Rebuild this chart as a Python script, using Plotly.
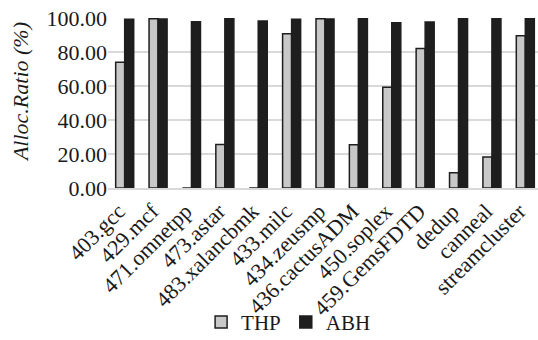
import plotly.graph_objects as go

categories = ["403.gcc", "429.mcf", "471.omnetpp", "473.astar", "483.xalancbmk",
              "433.milc", "434.zeusmp", "436.cactusADM", "450.soplex", "459.GemsFDTD",
              "dedup", "canneal", "streamcluster"]
thp = [74.0, 99.6, 0, 25.6, 0, 90.7, 99.6, 25.4, 59.3, 82.1, 8.9, 18.3, 89.5]
abh = [99.3, 99.4, 97.8, 99.5, 98.2, 99.3, 99.4, 99.5, 97.2, 97.6, 99.5, 99.5, 99.5]
y_ticks = [0, 20, 40, 60, 80, 100]
y_title = "Alloc.Ratio (%)"

FONT = "Liberation Serif, Times New Roman, serif"

fig = go.Figure()
fig.add_trace(go.Bar(x=categories, y=thp, name="THP",
                     marker=dict(color="#c8c8c8", line=dict(color="#1e1e1e", width=1.5))))
fig.add_trace(go.Bar(x=categories, y=abh, name="ABH",
                     marker=dict(color="#1e1e1e", line=dict(color="#1e1e1e", width=1.5))))

fig.update_layout(
    width=538, height=340,
    margin=dict(l=108, r=0, t=18, b=152, autoexpand=False),
    paper_bgcolor="white", plot_bgcolor="white",
    barmode="group", bargap=0.46, bargroupgap=0,
    font=dict(family=FONT, color="#1a1a1a"),
    xaxis=dict(range=[-0.5, 12.38], tickangle=-45, tickfont=dict(size=22, family=FONT),
               ticklabelshift=-6, automargin=False,
               showline=True, linecolor="#d9d9d9", linewidth=1.5, ticks="", showgrid=False),
    yaxis=dict(range=[0, 100], tickvals=y_ticks, tickformat=".2f", automargin=False,
               tickfont=dict(size=22, family=FONT),
               showgrid=True, gridcolor="#d9d9d9", gridwidth=1.5, zeroline=False),
    legend=dict(orientation="h", x=0.42, xanchor="center", y=-0.79, yanchor="middle",
                bgcolor="rgba(0,0,0,0)",
                font=dict(size=21, family=FONT), itemwidth=30, traceorder="normal"),
    annotations=[dict(text="<i>" + y_title + "</i>", xref="paper", yref="paper",
                      x=-0.202, y=0.565, xanchor="center", yanchor="middle",
                      textangle=-90, showarrow=False, font=dict(size=22, family=FONT))],
)

fig.write_html("out.html", config={"displayModeBar": False},
               post_script="document.body.style.margin='0';document.body.style.padding='0';")
